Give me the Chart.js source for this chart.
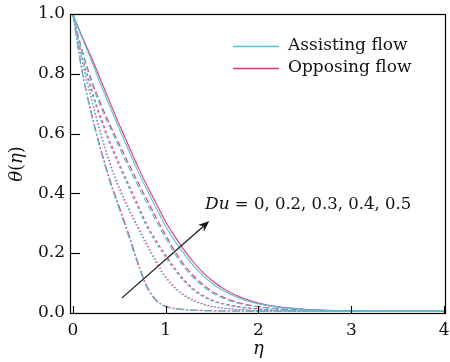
<!DOCTYPE html>
<html>
<head>
<meta charset="utf-8">
<script src="https://cdn.jsdelivr.net/npm/chart.js@4/dist/chart.umd.min.js"></script>
<style>
  html, body { margin: 0; padding: 0; background: #fff; }
  #wrap { width: 450px; height: 362px; position: relative; }
</style>
</head>
<body>
<div id="wrap"><canvas id="c" width="450" height="362"></canvas></div>
<script>
// ---- data ----
const eta = [0, 0.1, 0.2, 0.3, 0.4, 0.5, 0.6, 0.7, 0.8, 0.9, 1.0, 1.1, 1.2, 1.3, 1.4, 1.5, 1.6, 1.8, 2.0, 2.2, 2.5, 3.0, 3.5, 4.0];
const duLabels = ['0', '0.2', '0.3', '0.4', '0.5'];

// Assisting flow
const assistDu0  = [1, 0.805, 0.663, 0.543, 0.437, 0.347, 0.257, 0.163, 0.083, 0.039, 0.020, 0.013, 0.010, 0.008, 0.007, 0.006, 0.006, 0.005, 0.005, 0.005, 0.005, 0.005, 0.005, 0.005];
const assistDu02 = [1, 0.840, 0.712, 0.595, 0.495, 0.412, 0.344, 0.282, 0.222, 0.165, 0.115, 0.080, 0.056, 0.039, 0.028, 0.020, 0.015, 0.010, 0.007, 0.006, 0.005, 0.005, 0.005, 0.005];
const assistDu03 = [1, 0.855, 0.742, 0.645, 0.563, 0.490, 0.420, 0.352, 0.285, 0.232, 0.185, 0.142, 0.104, 0.075, 0.054, 0.040, 0.030, 0.018, 0.012, 0.008, 0.006, 0.005, 0.005, 0.005];
const assistDu04 = [1, 0.875, 0.772, 0.690, 0.620, 0.553, 0.488, 0.426, 0.365, 0.305, 0.250, 0.197, 0.152, 0.117, 0.089, 0.067, 0.051, 0.030, 0.019, 0.013, 0.008, 0.006, 0.005, 0.005];
const assistDu05 = [1, 0.920, 0.845, 0.765, 0.690, 0.615, 0.545, 0.475, 0.410, 0.350, 0.290, 0.240, 0.197, 0.158, 0.125, 0.099, 0.078, 0.048, 0.030, 0.019, 0.011, 0.006, 0.005, 0.005];

// Opposing flow
const opposeDu0  = [1, 0.810, 0.670, 0.550, 0.445, 0.355, 0.265, 0.170, 0.088, 0.042, 0.022, 0.015, 0.011, 0.009, 0.008, 0.007, 0.006, 0.006, 0.005, 0.005, 0.005, 0.005, 0.005, 0.005];
const opposeDu02 = [1, 0.845, 0.720, 0.603, 0.503, 0.420, 0.352, 0.290, 0.230, 0.172, 0.121, 0.085, 0.060, 0.042, 0.030, 0.022, 0.017, 0.011, 0.008, 0.007, 0.006, 0.005, 0.005, 0.005];
const opposeDu03 = [1, 0.860, 0.750, 0.655, 0.573, 0.500, 0.430, 0.362, 0.294, 0.240, 0.193, 0.149, 0.110, 0.080, 0.058, 0.043, 0.032, 0.020, 0.013, 0.009, 0.007, 0.005, 0.005, 0.005];
const opposeDu04 = [1, 0.880, 0.780, 0.700, 0.630, 0.565, 0.500, 0.438, 0.378, 0.317, 0.260, 0.206, 0.160, 0.124, 0.095, 0.072, 0.055, 0.033, 0.021, 0.014, 0.009, 0.006, 0.005, 0.005];
const opposeDu05 = [1, 0.925, 0.855, 0.780, 0.705, 0.630, 0.560, 0.490, 0.425, 0.365, 0.305, 0.255, 0.210, 0.170, 0.135, 0.108, 0.085, 0.053, 0.033, 0.021, 0.012, 0.007, 0.006, 0.005];

const xTicks = [0, 1, 2, 3, 4];
const xTickLabels = ['0', '1', '2', '3', '4'];
const yTicks = [0.0, 0.2, 0.4, 0.6, 0.8, 1.0];
const yTickLabels = ['0.0', '0.2', '0.4', '0.6', '0.8', '1.0'];
const seriesNames = ['Assisting flow', 'Opposing flow'];
const annotationText = ['Du', ' = 0, 0.2, 0.3, 0.4, 0.5'];
// arrow annotation in data coordinates [eta, theta]
const arrowFrom = [0.53, 0.05];
const arrowTo = [1.47, 0.307];

// ---- styles ----
const CYAN = '#52c5d0';
const PINK = '#e8337f';
const dashes = [[8, 2, 2, 2], [1.5, 2], [3, 2.5], [6, 3], []];
const SERIF = '"DejaVu Serif", "Liberation Serif", serif';

const assist = [assistDu0, assistDu02, assistDu03, assistDu04, assistDu05];
const oppose = [opposeDu0, opposeDu02, opposeDu03, opposeDu04, opposeDu05];

const datasets = [];
duLabels.forEach((du, i) => {
  datasets.push({
    label: seriesNames[0] + ' Du=' + du,
    data: eta.map((e, k) => ({ x: e, y: assist[i][k] })),
    borderColor: CYAN, borderWidth: 1.1, borderDash: dashes[i],
    pointRadius: 0, fill: false, cubicInterpolationMode: 'monotone'
  });
});
duLabels.forEach((du, i) => {
  datasets.push({
    label: seriesNames[1] + ' Du=' + du,
    data: eta.map((e, k) => ({ x: e, y: oppose[i][k] })),
    borderColor: PINK, borderWidth: 1.1, borderDash: dashes[i],
    pointRadius: 0, fill: false, cubicInterpolationMode: 'monotone'
  });
});

const decor = {
  id: 'decor',
  afterDraw(chart) {
    const { ctx, chartArea: a, scales: { x, y } } = chart;
    ctx.save();
    ctx.strokeStyle = '#000';
    ctx.lineWidth = 1.2;
    // frame
    ctx.strokeRect(a.left + 0.5, a.top + 0.5, a.right - a.left - 1, a.bottom - a.top - 1);
    // inward ticks
    ctx.lineWidth = 1.1;
    xTicks.forEach(v => {
      const px = Math.round(x.getPixelForValue(v)) + 0.5;
      ctx.beginPath(); ctx.moveTo(px, a.bottom); ctx.lineTo(px, a.bottom - 8); ctx.stroke();
    });
    yTicks.forEach(v => {
      const py = Math.round(y.getPixelForValue(v)) + 0.5;
      ctx.beginPath(); ctx.moveTo(a.left, py); ctx.lineTo(a.left + 10, py); ctx.stroke();
    });

    // legend
    const legY = [46, 68];
    const legColors = [CYAN, PINK];
    ctx.font = '17px ' + SERIF;
    ctx.textBaseline = 'middle';
    ctx.textAlign = 'left';
    ctx.fillStyle = '#111';
    seriesNames.forEach((n, i) => {
      ctx.strokeStyle = legColors[i];
      ctx.lineWidth = 1.3;
      ctx.beginPath(); ctx.moveTo(233, legY[i] + 0.5); ctx.lineTo(279, legY[i] + 0.5); ctx.stroke();
      ctx.fillText(n, 288, legY[i]);
    });

    // annotation text
    let tx = 205;
    const ty = 205;
    ctx.font = 'italic 17px ' + SERIF;
    ctx.fillText(annotationText[0], tx, ty);
    tx += ctx.measureText(annotationText[0]).width;
    ctx.font = '16.5px ' + SERIF;
    ctx.fillText(annotationText[1], tx, ty);

    // arrow
    const x0 = x.getPixelForValue(arrowFrom[0]), y0 = y.getPixelForValue(arrowFrom[1]);
    const x1 = x.getPixelForValue(arrowTo[0]), y1 = y.getPixelForValue(arrowTo[1]);
    const ang = Math.atan2(y1 - y0, x1 - x0);
    const hl = 11, hw = 4.5;
    ctx.strokeStyle = '#1a1a1a';
    ctx.fillStyle = '#1a1a1a';
    ctx.lineWidth = 1.3;
    ctx.beginPath(); ctx.moveTo(x0, y0);
    ctx.lineTo(x1 - Math.cos(ang) * hl * 0.7, y1 - Math.sin(ang) * hl * 0.7); ctx.stroke();
    ctx.beginPath();
    ctx.moveTo(x1, y1);
    ctx.lineTo(x1 - Math.cos(ang) * hl - Math.sin(ang) * hw, y1 - Math.sin(ang) * hl + Math.cos(ang) * hw);
    ctx.lineTo(x1 - Math.cos(ang) * hl * 0.7, y1 - Math.sin(ang) * hl * 0.7);
    ctx.lineTo(x1 - Math.cos(ang) * hl + Math.sin(ang) * hw, y1 - Math.sin(ang) * hl - Math.cos(ang) * hw);
    ctx.closePath(); ctx.fill();

    // axis titles
    ctx.fillStyle = '#111';
    ctx.textBaseline = 'middle';
    ctx.textAlign = 'center';
    ctx.font = 'italic 18px ' + SERIF;
    ctx.fillText('η', x.getPixelForValue(2), 349);

    ctx.save();
    ctx.translate(17, 164);
    ctx.rotate(-Math.PI / 2);
    const parts = [['θ', true], ['(', false], ['η', true], [')', false]];
    let w = 0;
    parts.forEach(p => { ctx.font = (p[1] ? 'italic ' : '') + '18px ' + SERIF; w += ctx.measureText(p[0]).width; });
    let px = -w / 2;
    ctx.textAlign = 'left';
    parts.forEach(p => {
      ctx.font = (p[1] ? 'italic ' : '') + '18px ' + SERIF;
      ctx.fillText(p[0], px, 0);
      px += ctx.measureText(p[0]).width;
    });
    ctx.restore();
    ctx.restore();
  }
};

new Chart(document.getElementById('c'), {
  type: 'line',
  data: { datasets },
  options: {
    responsive: false,
    animation: false,
    devicePixelRatio: 1,
    layout: { padding: { top: 14, right: 4, left: 0, bottom: 0 } },
    plugins: { legend: { display: false }, tooltip: { enabled: false } },
    scales: {
      x: {
        type: 'linear', min: -0.03, max: 4.02,
        afterFit: s => { s.height = 48; s.paddingLeft = 0; s.paddingRight = 0; },
        afterBuildTicks: s => { s.ticks = xTicks.map(v => ({ value: v })); },
        grid: { display: false, drawTicks: false },
        border: { display: false },
        ticks: {
          padding: 6, color: '#111',
          font: { family: SERIF, size: 17 },
          callback: (v) => xTickLabels[xTicks.indexOf(v)]
        }
      },
      y: {
        type: 'linear', min: -0.004, max: 1.0,
        afterFit: s => { s.width = 70; s.paddingTop = 0; s.paddingBottom = 0; },
        afterBuildTicks: s => { s.ticks = yTicks.map(v => ({ value: v })); },
        grid: { display: false, drawTicks: false },
        border: { display: false },
        ticks: {
          padding: 5, color: '#111',
          font: { family: SERIF, size: 17 },
          callback: (v) => yTickLabels[yTicks.indexOf(v)]
        }
      }
    }
  },
  plugins: [decor]
});
</script>
</body>
</html>
